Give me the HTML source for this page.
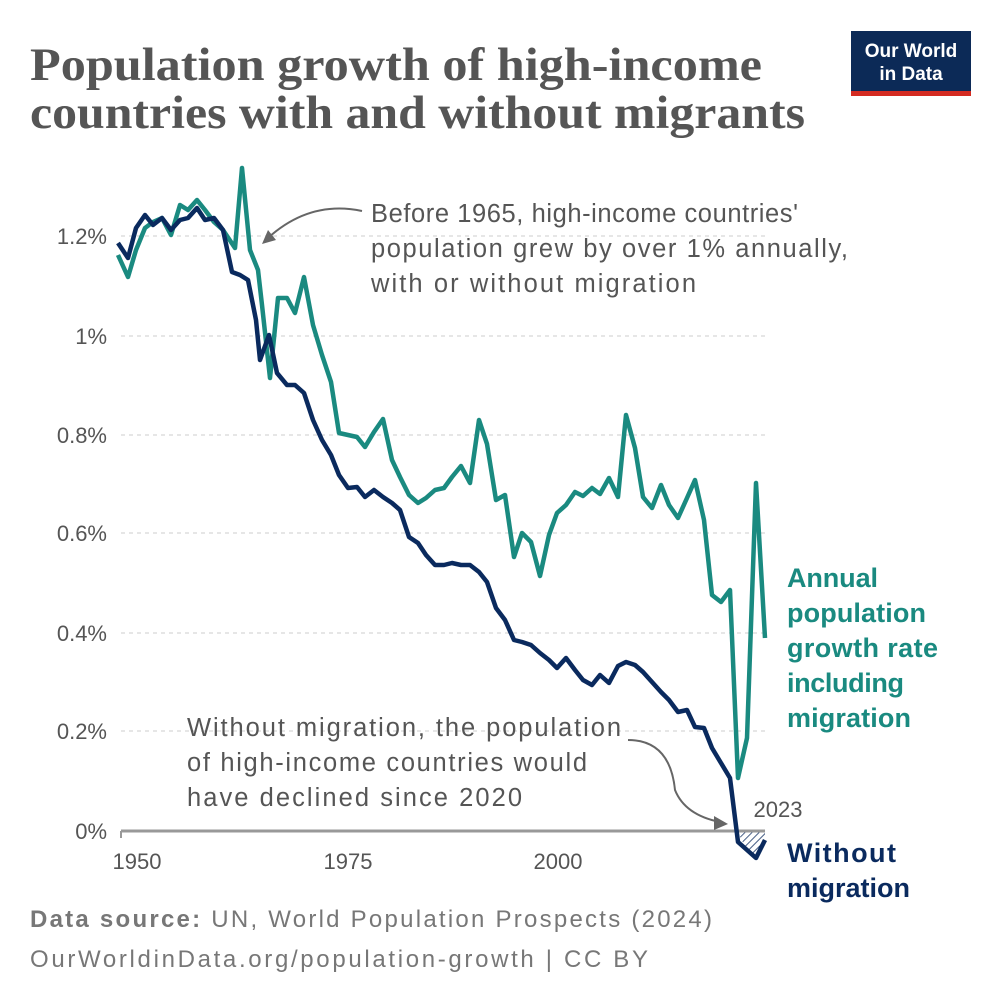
<!DOCTYPE html>
<html><head><meta charset="utf-8"><style>
html,body{margin:0;padding:0;background:#fff;}
svg{display:block;}
text{font-family:"Liberation Sans",sans-serif;}
</style></head><body>
<svg width="1000" height="1000" viewBox="0 0 1000 1000" xmlns="http://www.w3.org/2000/svg">
<defs>
<pattern id="h" patternUnits="userSpaceOnUse" width="5" height="5" patternTransform="rotate(45)">
<line x1="0" y1="0" x2="0" y2="5" stroke="#0a2a5e" stroke-width="1.5"/>
</pattern>
</defs>
<text x="30" y="80" font-weight="bold" font-size="47" fill="#555" textLength="732" lengthAdjust="spacingAndGlyphs" style="font-family:'Liberation Serif',serif">Population growth of high-income</text>
<text x="30" y="128" font-weight="bold" font-size="47" fill="#555" textLength="775" lengthAdjust="spacingAndGlyphs" style="font-family:'Liberation Serif',serif">countries with and without migrants</text>
<rect x="851" y="31" width="120" height="62" fill="#0c2a57"/>
<rect x="851" y="91" width="120" height="5" fill="#d42b21"/>
<text x="911" y="57" font-size="19" fill="#fff" text-anchor="middle" font-weight="bold">Our World</text>
<text x="911" y="80" font-size="19" fill="#fff" text-anchor="middle" font-weight="bold">in Data</text>
<g stroke="#ddd" stroke-width="1.5" stroke-dasharray="4,4">
<line x1="121" y1="236" x2="765" y2="236"/>
<line x1="121" y1="336" x2="765" y2="336"/>
<line x1="121" y1="435" x2="765" y2="435"/>
<line x1="121" y1="533" x2="765" y2="533"/>
<line x1="121" y1="633" x2="765" y2="633"/>
<line x1="121" y1="731" x2="765" y2="731"/>
</g>
<g font-size="22" fill="#555" text-anchor="end">
<text x="107" y="244">1.2%</text>
<text x="107" y="344">1%</text>
<text x="107" y="443">0.8%</text>
<text x="107" y="541">0.6%</text>
<text x="107" y="641">0.4%</text>
<text x="107" y="739">0.2%</text>
<text x="107" y="839">0%</text>
</g>
<polygon points="737,831 747,850 756,858 765,840 765,831" fill="url(#h)"/>
<line x1="121" y1="831" x2="765" y2="831" stroke="#999" stroke-width="3"/>
<line x1="121" y1="831" x2="121" y2="838" stroke="#999" stroke-width="2"/>
<g font-size="22" fill="#555" text-anchor="middle">
<text x="137" y="869">1950</text>
<text x="348" y="869">1975</text>
<text x="558" y="869">2000</text>
<text x="778" y="817">2023</text>
</g>
<polyline fill="none" stroke="#1a8a80" stroke-width="4.5" stroke-linejoin="round" points="118,255 128,277 136,250 145,228 153,222 162,218 171,235 180,205 188,210 197,200 205,210 214,222 223,230 235,248 242,168 250,250 258,270 262,305 270,378 278,298 287,298 295,313 304,277 313,325 322,355 331,382 339,433 348,435 357,437 365,447 374,432 383,419 392,460 400,477 409,495 418,503 426,498 435,490 444,488 452,477 461,466 470,483 479,420 487,444 496,500 505,495 514,557 522,533 531,542 540,576 549,535 557,513 566,505 575,492 583,496 592,488 600,494 609,478 618,497 626,415 635,448 643,497 652,508 661,485 669,505 678,518 687,498 695,480 704,520 712,595 721,602 730,590 738,778 747,738 756,483 765,638"/>
<polyline fill="none" stroke="#0a2a5e" stroke-width="4.5" stroke-linejoin="round" points="118,243 128,258 136,228 145,215 153,225 162,218 171,230 180,220 188,218 197,208 205,220 214,218 223,230 232,272 240,275 248,280 256,320 260,360 269,335 277,373 287,385 295,385 304,393 313,420 322,440 331,455 339,475 348,488 357,487 365,497 374,490 383,497 392,503 400,510 409,537 418,543 426,555 435,565 444,565 452,563 461,565 470,565 479,572 487,582 496,608 505,620 514,640 522,642 531,645 540,653 549,660 557,668 566,658 575,670 583,680 592,685 600,675 609,683 618,666 626,662 635,665 643,672 652,682 661,692 669,700 678,712 687,710 695,727 704,728 712,748 721,763 730,778 738,842 747,850 756,858 765,840"/>
<g font-size="25.5" fill="#555">
<text x="371" y="222" textLength="427">Before 1965, high-income countries'</text>
<text x="371" y="257" textLength="477">population grew by over 1% annually,</text>
<text x="371" y="292" textLength="325">with or without migration</text>
<text x="187" y="736" textLength="434">Without migration, the population</text>
<text x="187" y="771" textLength="400">of high-income countries would</text>
<text x="187" y="806" textLength="335">have declined since 2020</text>
</g>
<path d="M362,211 Q310,200 268,238" fill="none" stroke="#666" stroke-width="2"/>
<polygon points="262,244 276,240 268,230" fill="#666"/>
<path d="M628,740 Q670,740 675,790 Q685,815 720,822" fill="none" stroke="#666" stroke-width="2"/>
<polygon points="728,824 714,816 714,830" fill="#666"/>
<g font-size="27" font-weight="bold" fill="#1a8a80">
<text x="787" y="587" textLength="91">Annual</text>
<text x="787" y="622" textLength="139">population</text>
<text x="787" y="657" textLength="151">growth rate</text>
<text x="787" y="692" textLength="117">including</text>
<text x="787" y="727" textLength="124">migration</text>
</g>
<g font-size="27" font-weight="bold" fill="#0a2a5e">
<text x="787" y="862" textLength="109">Without</text>
<text x="787" y="897" textLength="123">migration</text>
</g>
<text x="30" y="927" font-size="24" fill="#777" textLength="682"><tspan font-weight="bold">Data source:</tspan> UN, World Population Prospects (2024)</text>
<text x="30" y="967" font-size="24" fill="#777" textLength="618">OurWorldinData.org/population-growth | CC BY</text>
</svg>
</body></html>
